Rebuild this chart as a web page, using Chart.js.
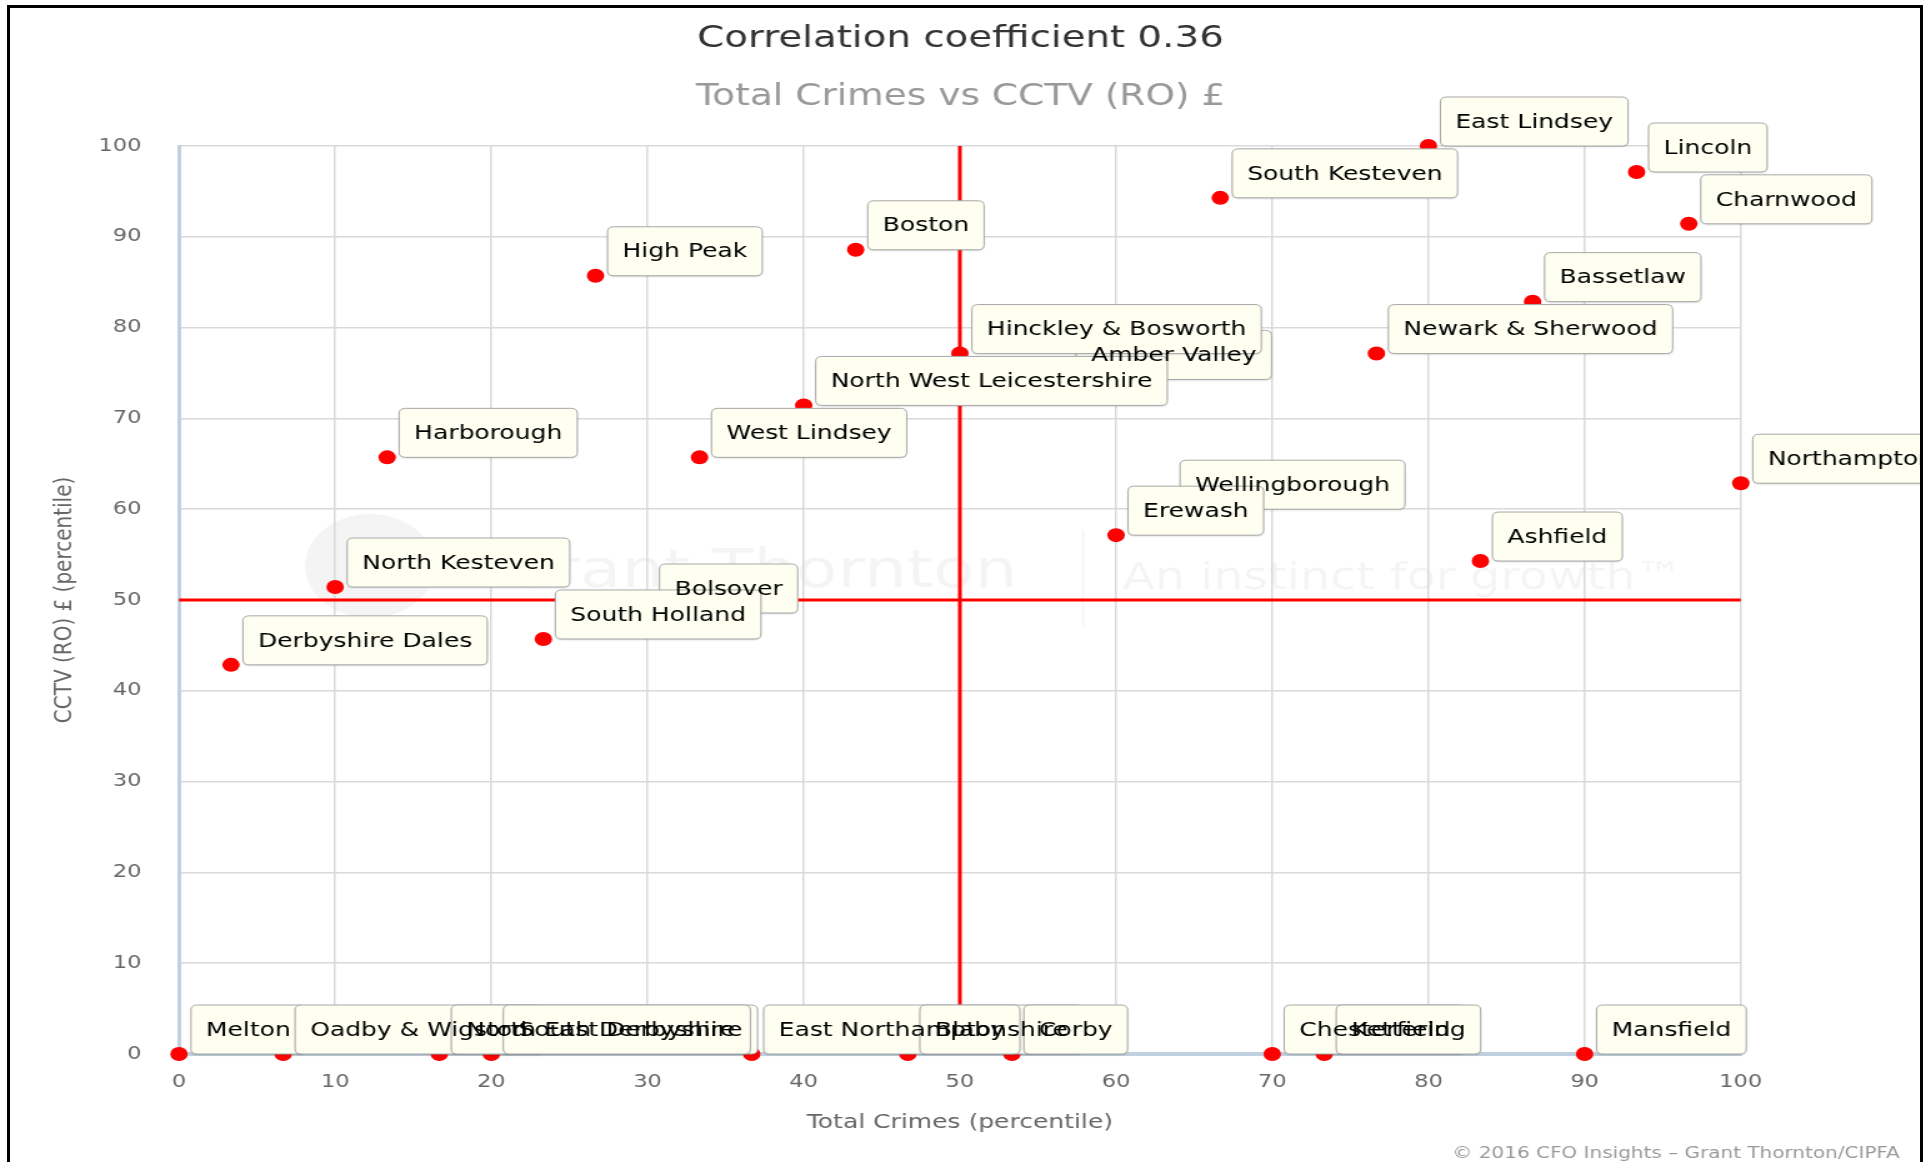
<!DOCTYPE html>
<html>
<head>
<meta charset="utf-8">
<title>Total Crimes vs CCTV (RO) £</title>
<script src="https://cdn.jsdelivr.net/npm/chart.js@4.4.1/dist/chart.umd.min.js"></script>
<style>
  html, body { margin: 0; padding: 0; background: #fff; overflow: hidden; }
  #chart { position: absolute; left: 0; top: 0; display: block; }
  #frame { position: absolute; left: 7px; top: 5px; width: 1916px; height: 1300px;
           box-sizing: border-box; border: 3px solid #000; border-bottom: none; pointer-events: none; }
</style>
</head>
<body>
<!-- le rendu d'origine est étiré en largeur : canvas 1537 px affiché sur 1921 px (style inline, gardé par Chart.js) -->
<canvas id="chart" width="1537" height="1162" style="width:1921.25px;height:1162px"></canvas>
<div id="frame"></div>
<script>
(function () {
  'use strict';

  // Districts, dans l'ordre de tracé des étiquettes
  const councils = [
    'Melton', 'Oadby & Wigston', 'North East Derbyshire', 'South Derbyshire',
    'East Northamptonshire', 'Blaby', 'Corby', 'Chesterfield', 'Kettering', 'Mansfield',
    'Derbyshire Dales', 'Bolsover', 'South Holland', 'North Kesteven', 'Ashfield',
    'Wellingborough', 'Erewash', 'Northampton', 'Harborough', 'West Lindsey',
    'Amber Valley', 'North West Leicestershire', 'Hinckley & Bosworth', 'Newark & Sherwood',
    'Bassetlaw', 'High Peak', 'Boston', 'Charnwood', 'South Kesteven', 'Lincoln', 'East Lindsey'
  ];
  // Total Crimes (percentile)
  const crimes = [
    0, 6.67, 16.67, 20, 36.67, 46.67, 53.33, 70, 73.33, 90,
    3.33, 30, 23.33, 10, 83.33, 63.33, 60, 100, 13.33, 33.33,
    56.67, 40, 50, 76.67, 86.67, 26.67, 43.33, 96.67, 66.67, 93.33, 80
  ];
  // CCTV (RO) £ (percentile)
  const cctv = [
    0, 0, 0, 0, 0, 0, 0, 0, 0, 0,
    42.86, 48.57, 45.71, 51.43, 54.29, 60, 57.14, 62.86, 65.71, 65.71,
    74.29, 71.43, 77.14, 77.14, 82.86, 85.71, 88.57, 91.43, 94.29, 97.14, 100
  ];
  const tickValues = [0, 10, 20, 30, 40, 50, 60, 70, 80, 90, 100];
  const splitAt = 50;

  const FONT = '"DejaVu Sans", Verdana, sans-serif';
  Chart.defaults.font.family = FONT;

  // Rectangle arrondi (roundRect pas toujours dispo)
  function roundBox(ctx, x, y, w, h, r) {
    ctx.beginPath();
    ctx.moveTo(x + r, y);
    ctx.lineTo(x + w - r, y);
    ctx.quadraticCurveTo(x + w, y, x + w, y + r);
    ctx.lineTo(x + w, y + h - r);
    ctx.quadraticCurveTo(x + w, y + h, x + w - r, y + h);
    ctx.lineTo(x + r, y + h);
    ctx.quadraticCurveTo(x, y + h, x, y + h - r);
    ctx.lineTo(x, y + r);
    ctx.quadraticCurveTo(x, y, x + r, y);
    ctx.closePath();
  }

  // Filigrane Grant Thornton en fond
  const watermark = {
    id: 'watermark',
    beforeDraw(chart) {
      const ctx = chart.ctx;
      ctx.save();
      ctx.fillStyle = 'rgba(0,0,0,0.045)';
      ctx.beginPath();
      ctx.arc(296, 566, 52, 0, Math.PI * 2);
      ctx.fill();
      ctx.font = '54px ' + FONT;
      ctx.textBaseline = 'middle';
      ctx.fillText('Grant Thornton', 400, 573);
      ctx.font = '38px ' + FONT;
      ctx.fillText('An instinct for growth\u2122', 898, 579);
      ctx.fillRect(866, 530, 1.5, 98);
      ctx.restore();
    }
  };

  // Étiquettes de points (boîtes puis textes, comme l'original)
  const pointLabels = {
    id: 'pointLabels',
    afterDatasetsDraw(chart) {
      const ctx = chart.ctx;
      const meta = chart.getDatasetMeta(0);
      ctx.save();
      ctx.font = '20px ' + FONT;
      const boxes = meta.data.map((pt, i) => {
        const w = ctx.measureText(councils[i]).width + 24;
        return { x: pt.x + 9.6, y: pt.y - 49, w: w, h: 49, text: councils[i] };
      });
      boxes.forEach(b => {
        ctx.shadowColor = 'rgba(0,0,0,0.18)';
        ctx.shadowBlur = 2;
        ctx.shadowOffsetY = 1;
        roundBox(ctx, b.x, b.y, b.w, b.h, 5);
        ctx.fillStyle = '#FEFEF1';
        ctx.fill();
        ctx.shadowColor = 'transparent';
        ctx.lineWidth = 1;
        ctx.strokeStyle = '#A8A8A8';
        ctx.stroke();
      });
      ctx.fillStyle = '#000';
      ctx.textAlign = 'center';
      ctx.textBaseline = 'middle';
      boxes.forEach(b => ctx.fillText(b.text, b.x + b.w / 2, b.y + b.h / 2 + 1));
      ctx.restore();
    }
  };

  const credits = {
    id: 'credits',
    afterDraw(chart) {
      const ctx = chart.ctx;
      ctx.save();
      ctx.font = '16px ' + FONT;
      ctx.fillStyle = '#999';
      ctx.textAlign = 'right';
      ctx.textBaseline = 'middle';
      ctx.fillText('\u00A9 2016 CFO Insights \u2013 Grant Thornton/CIPFA', 1520, 1154);
      ctx.restore();
    }
  };

  const points = councils.map((n, i) => ({ x: crimes[i], y: cctv[i] }));

  new Chart(document.getElementById('chart'), {
    type: 'scatter',
    data: {
      datasets: [{
        label: 'Districts',
        data: points,
        backgroundColor: '#FF0000',
        borderWidth: 0,
        pointRadius: 7,
        pointHoverRadius: 7,
        clip: false,
        order: 0
      }, {
        type: 'line',
        data: [{ x: splitAt, y: 0 }, { x: splitAt, y: 100 }],
        borderColor: '#FF0000',
        borderWidth: 3,
        pointRadius: 0,
        clip: false,
        order: 1
      }, {
        type: 'line',
        data: [{ x: 0, y: splitAt }, { x: 100, y: splitAt }],
        borderColor: '#FF0000',
        borderWidth: 3,
        pointRadius: 0,
        clip: false,
        order: 1
      }]
    },
    options: {
      responsive: false,
      devicePixelRatio: 1,
      animation: false,
      events: [],
      layout: { padding: 0 },
      plugins: {
        legend: { display: false },
        tooltip: { enabled: false },
        title: {
          display: true,
          text: 'Correlation coefficient 0.36',
          color: '#333',
          font: { size: 31, weight: 'normal', lineHeight: 1.2 },
          padding: { top: 20.4, bottom: 21.4 }
        },
        subtitle: {
          display: true,
          text: 'Total Crimes vs CCTV (RO) \u00A3',
          color: '#999',
          font: { size: 30, weight: 'normal', lineHeight: 1.2 },
          padding: { top: 0, bottom: 31 }
        }
      },
      scales: {
        x: {
          type: 'linear',
          min: 0,
          max: 100,
          afterBuildTicks: s => { s.ticks = tickValues.map(v => ({ value: v })); },
          afterFit: s => { s.height = 108; },
          ticks: { color: '#666', padding: 18, font: { size: 18 } },
          grid: { color: '#D9D9D9', lineWidth: 1.5, drawTicks: false },
          border: { color: '#C0D0E0', width: 4 },
          title: {
            display: true,
            text: 'Total Crimes (percentile)',
            color: '#666',
            font: { size: 20 },
            padding: { top: 0, bottom: 27 }
          }
        },
        y: {
          type: 'linear',
          min: 0,
          max: 100,
          afterBuildTicks: s => { s.ticks = tickValues.map(v => ({ value: v })); },
          afterFit: s => { s.width = 143.2; },
          ticks: { color: '#666', padding: 30, font: { size: 18 } },
          grid: { color: '#D9D9D9', lineWidth: 1.5, drawTicks: false },
          border: { color: '#C0D0E0', width: 3 },
          title: {
            display: true,
            text: 'CCTV (RO) \u00A3 (percentile)',
            color: '#666',
            font: { size: 20 },
            padding: { top: 40, bottom: 0 }
          }
        },
        // marge droite vide (les titres restent centrés sur tout le canvas)
        yRight: {
          type: 'linear',
          position: 'right',
          min: 0,
          max: 100,
          afterFit: s => { s.width = 144.2; },
          ticks: { display: false },
          grid: { display: false },
          border: { display: false }
        }
      }
    },
    plugins: [watermark, pointLabels, credits]
  });
})();
</script>
</body>
</html>
